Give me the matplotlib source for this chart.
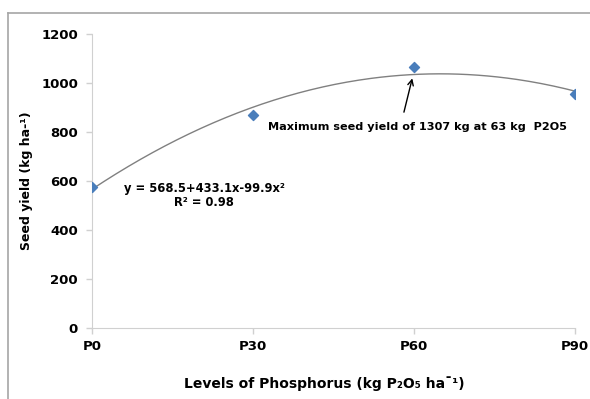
import matplotlib.pyplot as plt
from matplotlib.lines import Line2D
import numpy as np

levels = [0, 30, 60, 90]
level_labels = ["P0", "P30", "P60", "P90"]
seed_yield = [577, 869, 1067, 956]

fig = plt.figure(figsize=(5.9, 3.99), dpi=100)
ax = fig.add_axes([92 / 590, 1 - 328 / 399, 483 / 590, 294 / 399])

# outer frame (runs off the right/bottom edges)
fig.add_artist(Line2D([8 / 590, 8 / 590], [0, 1 - 13 / 399], transform=fig.transFigure,
                      color="#a6a6a6", linewidth=1.2))
fig.add_artist(Line2D([8 / 590, 1], [1 - 13 / 399, 1 - 13 / 399], transform=fig.transFigure,
                      color="#a6a6a6", linewidth=1.2))

# quadratic trend line
idx = np.arange(len(levels))
coef = np.polyfit(idx, seed_yield, 2)
xs = np.linspace(0, len(levels) - 1, 200)
ax.plot(xs * 30, np.polyval(coef, xs), color="#808080", linewidth=1.0, zorder=2)

ax.scatter(levels, seed_yield, marker="D", s=26, color="#4a7ebb", zorder=3)

ax.set_xlim(0, 90)
ax.set_ylim(0, 1200)
ax.set_xticks(levels)
ax.set_xticklabels(level_labels)
ax.set_yticks(range(0, 1201, 200))
for lab in ax.get_xticklabels() + ax.get_yticklabels():
    lab.set_fontweight("bold")
    lab.set_fontsize(9.5)
ax.tick_params(axis="both", colors="#d0d0d0", labelcolor="black", length=4, width=1)
ax.tick_params(axis="x", pad=5)
ax.tick_params(axis="y", pad=6)
for side in ("top", "right"):
    ax.spines[side].set_visible(False)
for side in ("left", "bottom"):
    ax.spines[side].set_color("#d0d0d0")

ax.set_ylabel("Seed yield (kg ha-\u00b9)", fontsize=9, fontweight="bold", labelpad=6)
ax.set_xlabel("Levels of Phosphorus (kg P\u2082O\u2085 ha\u00af\u00b9)", fontsize=10,
              fontweight="bold")
ax.xaxis.set_label_coords((324 - 92) / 483, -0.165)

ax.text(20.9, 571, "y = 568.5+433.1x-99.9x\u00b2", ha="center", va="center",
        fontsize=8.3, fontweight="bold")
ax.text(20.9, 511, "R\u00b2 = 0.98", ha="center", va="center", fontsize=8.3, fontweight="bold")

ax.annotate("", xy=(59.8, 1030), xytext=(58.0, 870),
            arrowprops=dict(arrowstyle="->", color="black", linewidth=1.0))
ax.text(60.7, 820, "Maximum seed yield of 1307 kg at 63 kg  P2O5", ha="center", va="center",
        fontsize=8.1, fontweight="bold")

fig.savefig("out.png", dpi=100)
